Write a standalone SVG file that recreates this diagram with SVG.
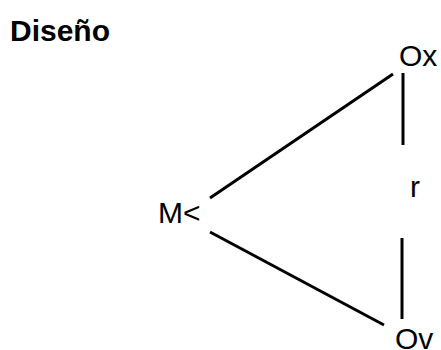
<svg xmlns="http://www.w3.org/2000/svg" width="441" height="350" viewBox="0 0 441 350">
<style>
.t{font-family:"Liberation Sans",Arial,sans-serif;font-size:30px;fill:#000}
.b{font-weight:bold}
.c line{stroke:#000;stroke-width:3;stroke-linecap:butt}
</style>
<rect width="441" height="350" fill="#fff"/>
<g id="title"><text class="t b" x="10" y="41">Diseño</text></g>
<g id="Ox"><text class="t" x="399" y="66">Ox</text></g>
<g id="M"><text class="t" x="158" y="223">M&lt;</text></g>
<g id="r"><text class="t" x="410" y="197">r</text></g>
<g id="Ov"><text class="t" x="395" y="349">Ov</text></g>
<g class="c" id="connectors">
<line x1="210" y1="198" x2="393" y2="74"/>
<line x1="403" y1="73" x2="403" y2="145"/>
<line x1="210" y1="232" x2="384" y2="325"/>
<line x1="402" y1="238" x2="402" y2="319"/>
</g>
</svg>
